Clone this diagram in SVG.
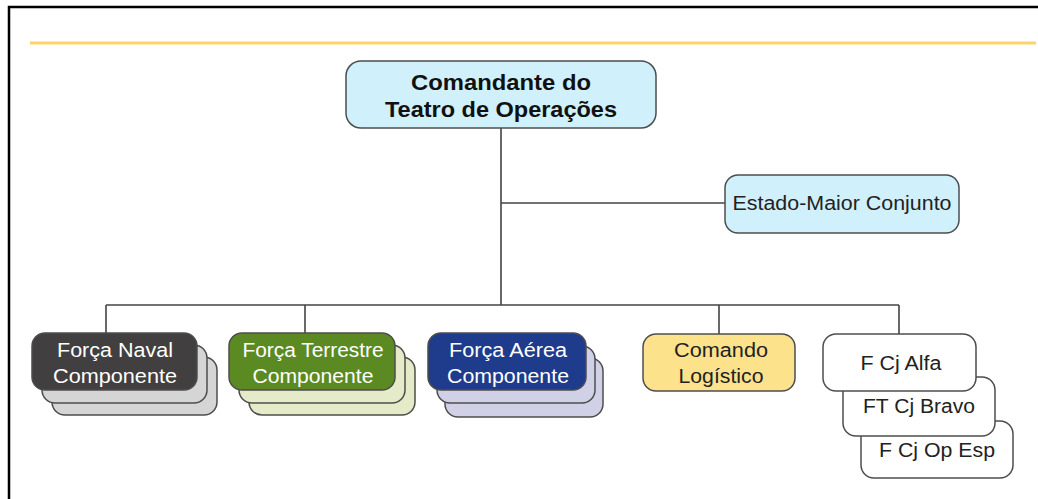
<svg xmlns="http://www.w3.org/2000/svg" width="1038" height="499" viewBox="0 0 1038 499">
<style>
.t{font-family:"Liberation Sans",Arial,sans-serif;font-size:19.5px;text-anchor:middle}
.b{font-weight:bold;font-size:22px;fill:#111}
.w{fill:#fff}
.d{fill:#222}
.box{stroke:#4d4d4d;stroke-width:1.5}
.con{stroke:#444;stroke-width:1.6;fill:none}
</style>
<rect width="1038" height="499" fill="#fff"/>
<path d="M9 499V7H1038" fill="none" stroke="#000" stroke-width="2.5"/>
<line x1="30" y1="43" x2="1036" y2="43" stroke="#fdd469" stroke-width="3"/>
<g id="connectors">
<path class="con" d="M501 128V305M501 203H725M106 305H899M106 305V333M305 305V333M719 305V334M899 305V334"/>
</g>
<g id="comandante">
<rect class="box" x="346" y="61" width="310" height="67" rx="15" fill="#d0f0fb"/>
<text class="t b" x="501" y="90" textLength="180" lengthAdjust="spacingAndGlyphs">Comandante do</text>
<text class="t b" x="501" y="117" textLength="232" lengthAdjust="spacingAndGlyphs">Teatro de Operações</text>
</g>
<g id="estado-maior">
<rect class="box" x="725" y="175" width="234" height="58" rx="13" fill="#d0f0fb"/>
<text class="t d" x="842" y="210" textLength="219" lengthAdjust="spacingAndGlyphs">Estado-Maior Conjunto</text>
</g>
<g id="naval">
<rect class="box" x="52" y="357" width="165" height="58" rx="13" fill="#d5d5d5"/>
<rect class="box" x="42" y="345" width="165" height="58" rx="13" fill="#d5d5d5"/>
<rect class="box" x="32" y="333" width="165" height="57" rx="13" fill="#413f40"/>
<text class="t w" x="115" y="357" textLength="116" lengthAdjust="spacingAndGlyphs">Força Naval</text>
<text class="t w" x="115" y="383" textLength="124" lengthAdjust="spacingAndGlyphs">Componente</text>
</g>
<g id="terrestre">
<rect class="box" x="249" y="357" width="166" height="58" rx="13" fill="#e5ebc8"/>
<rect class="box" x="239" y="345" width="166" height="58" rx="13" fill="#e5ebc8"/>
<rect class="box" x="229" y="333" width="166" height="57" rx="13" fill="#5b8a22"/>
<text class="t w" x="313" y="357" textLength="141" lengthAdjust="spacingAndGlyphs">Força Terrestre</text>
<text class="t w" x="313" y="383" textLength="121" lengthAdjust="spacingAndGlyphs">Componente</text>
</g>
<g id="aerea">
<rect class="box" x="445" y="358" width="158" height="59" rx="13" fill="#d0d1e6"/>
<rect class="box" x="437" y="346" width="158" height="57" rx="13" fill="#d0d1e6"/>
<rect class="box" x="428" y="333" width="158" height="57" rx="13" fill="#1f3b8b"/>
<text class="t w" x="508" y="357" textLength="118" lengthAdjust="spacingAndGlyphs">Força Aérea</text>
<text class="t w" x="508" y="383" textLength="122" lengthAdjust="spacingAndGlyphs">Componente</text>
</g>
<g id="logistico">
<rect class="box" x="643" y="334" width="152" height="57" rx="13" fill="#fde28c"/>
<text class="t d" x="721" y="357" textLength="94" lengthAdjust="spacingAndGlyphs">Comando</text>
<text class="t d" x="721" y="383" textLength="85" lengthAdjust="spacingAndGlyphs">Logístico</text>
</g>
<g id="f-cj-op-esp">
<rect class="box" x="861" y="421" width="152" height="57" rx="13" fill="#fff"/>
<text class="t d" x="937" y="457" textLength="116" lengthAdjust="spacingAndGlyphs">F Cj Op Esp</text>
</g>
<g id="ft-cj-bravo">
<rect class="box" x="843" y="377" width="152" height="59" rx="13" fill="#fff"/>
<text class="t d" x="919" y="413" textLength="112" lengthAdjust="spacingAndGlyphs">FT Cj Bravo</text>
</g>
<g id="f-cj-alfa">
<rect class="box" x="823" y="334" width="153" height="57" rx="13" fill="#fff"/>
<text class="t d" x="901" y="370" textLength="81" lengthAdjust="spacingAndGlyphs">F Cj Alfa</text>
</g>
</svg>
